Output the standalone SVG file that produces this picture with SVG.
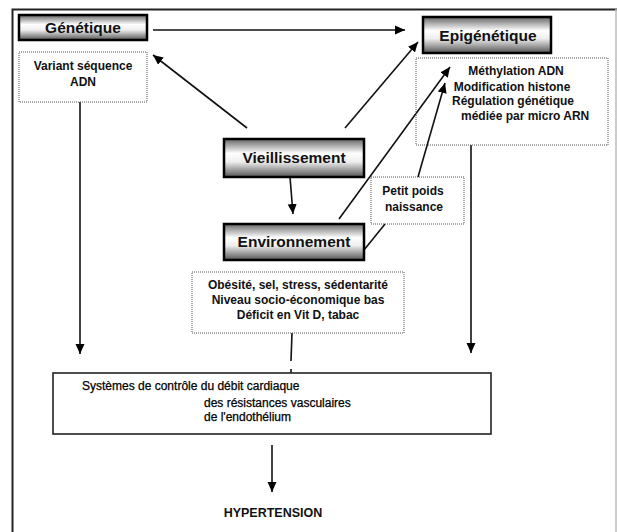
<svg xmlns="http://www.w3.org/2000/svg" width="617" height="532" viewBox="0 0 617 532">
<defs>
<linearGradient id="metal" x1="0" y1="0" x2="0" y2="1">
<stop offset="0" stop-color="#666"/>
<stop offset="0.38" stop-color="#ffffff"/>
<stop offset="0.6" stop-color="#eeeeee"/>
<stop offset="1" stop-color="#555555"/>
</linearGradient>
<marker id="ah" viewBox="0 0 10 10" refX="10" refY="5" markerWidth="10" markerHeight="10" markerUnits="userSpaceOnUse" orient="auto">
<path d="M0,0.5 L10,5 L0,9.5 z" fill="#000"/>
</marker>
<style>
text{font-family:"Liberation Sans",Arial,sans-serif;fill:#111}
.big{font-size:15.5px;font-weight:bold;text-anchor:middle}
.sm{font-size:12px;font-weight:bold}
.c{text-anchor:middle}
.reg{font-size:12px;fill:#000;stroke:#000;stroke-width:0.25}
.mbox{fill:url(#metal);stroke:#000;stroke-width:2.5}
.dot{fill:none;stroke:#555;stroke-width:1;stroke-dasharray:1 1}
.ln{stroke:#111;stroke-width:1.6;fill:none}
.ar{stroke:#111;stroke-width:1.6;fill:none;marker-end:url(#ah)}
</style>
</defs>
<rect width="617" height="532" fill="#fff"/>
<g id="frame">
<path d="M12.5,532 V9.5 H617" fill="none" stroke="#222" stroke-width="2"/>
<line x1="616" y1="9" x2="616" y2="532" stroke="#bbb" stroke-width="1.5"/>
</g>
<g id="connectors">
<line class="ar" x1="153" y1="30" x2="405" y2="30"/>
<line class="ar" x1="247" y1="128" x2="153" y2="55"/>
<line class="ar" x1="345" y1="128" x2="418" y2="42"/>
<line class="ar" x1="290" y1="177" x2="293" y2="214"/>
<line class="ar" x1="339" y1="219" x2="450" y2="67"/>
<line class="ar" x1="418" y1="177" x2="445" y2="83"/>
<line class="ln" x1="364" y1="250" x2="385" y2="224"/>
<line class="ar" x1="80" y1="102" x2="80" y2="354"/>
<line class="ar" x1="471" y1="145" x2="471" y2="353"/>
<line class="ln" x1="292" y1="333" x2="291" y2="361"/>
<line class="ln" x1="291" y1="369" x2="291" y2="373"/>
<line class="ar" x1="272" y1="445" x2="272" y2="492"/>
</g>
<g id="genetique">
<rect class="mbox" x="19" y="15" width="128" height="25"/>
<text class="big" x="83" y="33">Génétique</text>
</g>
<g id="variant">
<rect class="dot" x="19" y="52" width="128" height="50"/>
<text class="sm c" x="83" y="70">Variant séquence</text>
<text class="sm c" x="83" y="86">ADN</text>
</g>
<g id="epigenetique">
<rect class="mbox" x="423" y="17" width="128" height="36"/>
<text class="big" x="488" y="41">Epigénétique</text>
</g>
<g id="epi-details">
<rect class="dot" x="416" y="58" width="192" height="87"/>
<text class="sm c" x="516" y="75">Méthylation ADN</text>
<text class="sm c" x="512" y="91">Modification histone</text>
<text class="sm c" x="513" y="105">Régulation génétique</text>
<text class="sm" x="461" y="120">médiée par micro ARN</text>
</g>
<g id="vieillissement">
<rect class="mbox" x="224" y="139" width="140" height="38"/>
<text class="big" x="294" y="163">Vieillissement</text>
</g>
<g id="environnement">
<rect class="mbox" x="224" y="224" width="140" height="36"/>
<text class="big" x="294" y="247">Environnement</text>
</g>
<g id="petit-poids">
<rect class="dot" x="371" y="177" width="93" height="47"/>
<text class="sm c" x="413" y="195">Petit poids</text>
<text class="sm c" x="414" y="211">naissance</text>
</g>
<g id="env-details">
<rect class="dot" x="192" y="272" width="212" height="61"/>
<text class="sm c" x="298" y="289">Obésité, sel, stress, sédentarité</text>
<text class="sm c" x="298" y="304">Niveau socio-économique bas</text>
<text class="sm c" x="298" y="319">Déficit en Vit D, tabac</text>
</g>
<g id="systemes">
<rect x="53" y="373" width="438" height="61" fill="#fff" stroke="#222" stroke-width="1.6"/>
<text class="reg" x="82" y="390">Systèmes de contrôle du débit cardiaque</text>
<text class="reg" x="204" y="407">des résistances vasculaires</text>
<text class="reg" x="204" y="421">de l'endothélium</text>
</g>
<g id="hypertension">
<text x="273" y="517" style="font-size:12.5px;font-weight:bold;text-anchor:middle">HYPERTENSION</text>
</g>
</svg>
